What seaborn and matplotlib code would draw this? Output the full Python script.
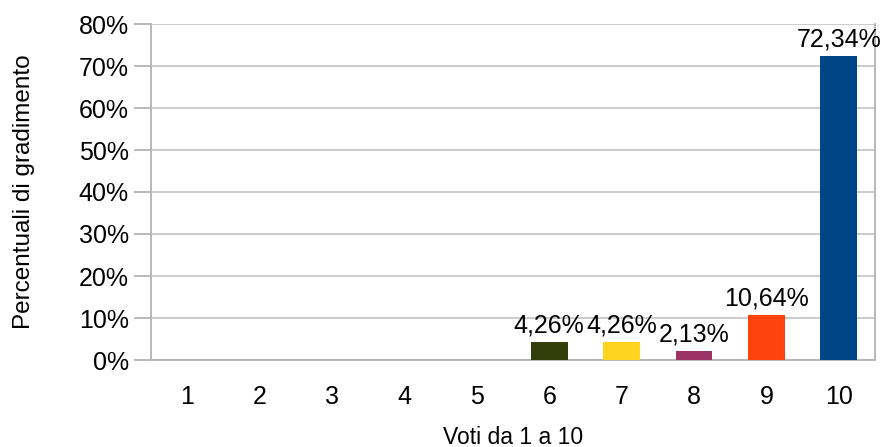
import matplotlib
matplotlib.use("Agg")
import matplotlib.pyplot as plt
import seaborn as sns
import pandas as pd

# data
voti = ["1", "2", "3", "4", "5", "6", "7", "8", "9", "10"]
percentuali = [0, 0, 0, 0, 0, 0.0426, 0.0426, 0.0213, 0.1064, 0.7234]
colori = ["#004586", "#004586", "#004586", "#004586", "#004586",
          "#333f0a", "#ffd320", "#9b3366", "#ff420e", "#004586"]
y_ticks = [0, 0.1, 0.2, 0.3, 0.4, 0.5, 0.6, 0.7, 0.8]

df = pd.DataFrame({"voto": voti, "perc": percentuali})

sns.set_style("white")
plt.rcParams["font.family"] = ["Liberation Sans", "DejaVu Sans"]
plt.rcParams["text.color"] = "black"
plt.rcParams["axes.labelcolor"] = "black"

fig = plt.figure(figsize=(8.84, 4.47), dpi=100)
ax = fig.add_axes([151 / 884, 1 - 360 / 447, 724 / 884, 336 / 447])

sns.barplot(data=df, x="voto", y="perc", hue="voto", palette=colori,
            legend=False, width=0.51, ax=ax, saturation=1, zorder=3,
            linewidth=0)

ax.set_xlim(-0.5, 9.5)
ax.set_ylim(0, 0.8)
ax.set_yticks(y_ticks)
ax.set_yticklabels([f"{int(round(t * 100))}%" for t in y_ticks], fontsize=18)
ax.grid(axis="y", color="#c8c8c8", linewidth=1.3, zorder=0)

# x ticks: labels at centres, tick marks on category boundaries
ax.set_xticks(range(len(voti)))
ax.set_xticklabels(voti, fontsize=18)
ax.set_xticks([i - 0.5 for i in range(len(voti) + 1)], minor=True)
ax.tick_params(axis="x", which="major", length=0, pad=18, labelcolor="black")
ax.tick_params(axis="x", which="minor", length=12, color="#b3b3b3", width=1.3)
ax.tick_params(axis="y", length=12, color="#b3b3b3", width=1.3, pad=4,
               left=True, labelcolor="black")

for side in ["left", "right", "bottom"]:
    ax.spines[side].set_color("#b3b3b3")
    ax.spines[side].set_linewidth(1.3)
ax.spines["top"].set_visible(False)

for bar, v in zip(ax.patches, percentuali):
    if v > 0:
        ax.text(bar.get_x() + bar.get_width() / 2, v + 0.012,
                f"{v * 100:.2f}%".replace(".", ","),
                ha="center", va="bottom", fontsize=18, zorder=4)

ax.set_xlabel("Voti da 1 a 10", fontsize=16.5)
ax.xaxis.set_label_coords(0.5, (360 - 437) / 336)
ax.xaxis.label.set_va("center")
ax.set_ylabel("Percentuali di gradimento", fontsize=17.5)
ax.yaxis.set_label_coords((24 - 151) / 724, 0.5)
ax.yaxis.label.set_va("center")

fig.savefig("out.png", dpi=100)
